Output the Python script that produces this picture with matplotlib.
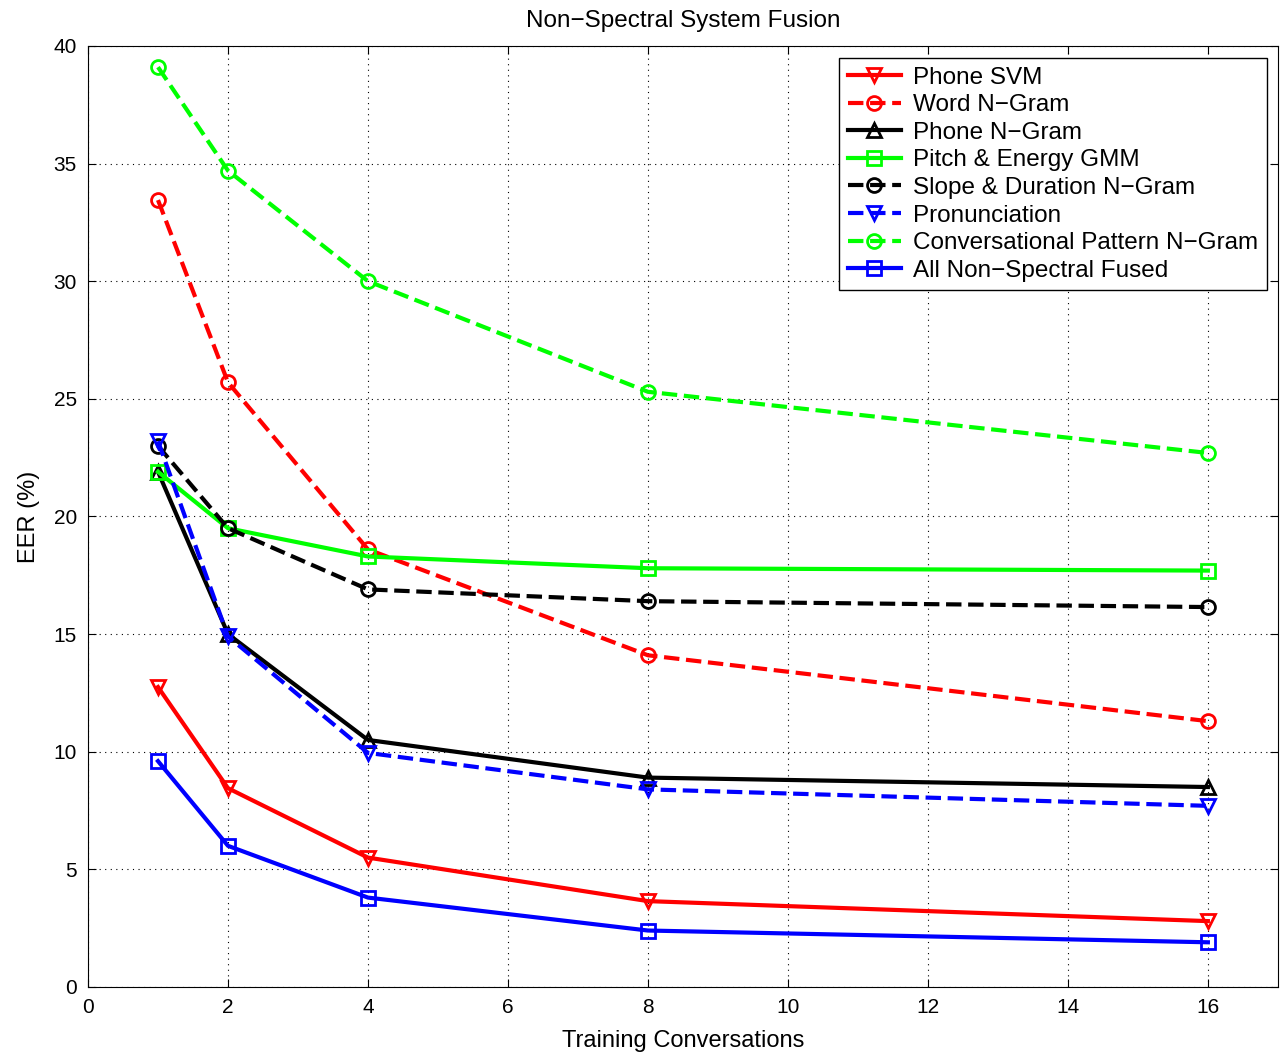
import matplotlib.pyplot as plt
import numpy as np

plt.rcParams['font.family'] = ['Liberation Sans', 'DejaVu Sans']

# training conversations
conversations = [1, 2, 4, 8, 16]

# EER (%) per system
phone_svm = [12.75, 8.45, 5.5, 3.65, 2.8]
word_ngram = [33.45, 25.7, 18.6, 14.1, 11.3]
phone_ngram = [21.9, 15.0, 10.5, 8.9, 8.5]
pitch_energy = [21.9, 19.5, 18.3, 17.8, 17.7]
slope_duration = [23.0, 19.5, 16.9, 16.4, 16.15]
pronunciation = [23.2, 14.9, 9.95, 8.4, 7.7]
conv_pattern = [39.1, 34.7, 30.0, 25.3, 22.7]
all_fused = [9.6, 6.0, 3.8, 2.4, 1.9]

fig = plt.figure(figsize=(12.83, 10.52), dpi=100)
ax = fig.add_axes([0.0686, 0.0618, 0.9274, 0.8945])

lw = 3.0
ms = 10
mew = 2.0

def draw(y, color, ls, marker, label):
    ax.plot(conversations, y, color=color, linestyle=ls, linewidth=lw,
            marker=marker, markersize=ms, markerfacecolor='none',
            markeredgewidth=mew, label=label)

draw(phone_svm, '#ff0000', '-', 'v', 'Phone SVM')
draw(word_ngram, '#ff0000', '--', 'o', 'Word N\u2212Gram')
draw(phone_ngram, 'black', '-', '^', 'Phone N\u2212Gram')
draw(pitch_energy, '#00ff00', '-', 's', 'Pitch & Energy GMM')
draw(slope_duration, 'black', '--', 'o', 'Slope & Duration N\u2212Gram')
draw(pronunciation, '#0000ff', '--', 'v', 'Pronunciation')
draw(conv_pattern, '#00ff00', '--', 'o', 'Conversational Pattern N\u2212Gram')
draw(all_fused, '#0000ff', '-', 's', 'All Non\u2212Spectral Fused')

ax.set_xlim(0, 17)
ax.set_ylim(0, 40)
ax.set_xticks(np.arange(0, 17, 2))
ax.set_yticks(np.arange(0, 41, 5))
ax.tick_params(direction='in', labelsize=15, length=6, top=True, right=True,
               pad=8)
ax.grid(True, linestyle=(0, (1, 4)), color='black', linewidth=0.8)

ax.set_xlabel('Training Conversations', fontsize=17, labelpad=9)
ax.set_ylabel('EER (%)', fontsize=17, labelpad=10)
ax.set_title('Non\u2212Spectral System Fusion', fontsize=17.5, pad=14)

leg = ax.legend(loc='upper right', bbox_to_anchor=(0.9908, 0.9872),
                fontsize=17.5, fancybox=False, framealpha=1,
                edgecolor='black', handlelength=2.2, borderpad=0.35,
                labelspacing=0.23, handletextpad=0.5, borderaxespad=0)
leg.get_frame().set_linewidth(1.0)

fig.savefig('out.png', dpi=100)
